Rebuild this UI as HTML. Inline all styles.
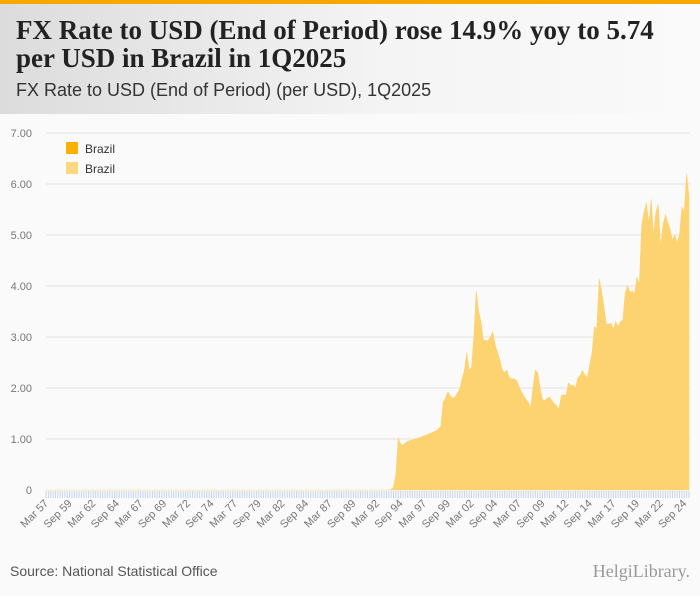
<!DOCTYPE html>
<html><head><meta charset="utf-8"><style>
body{margin:0;width:700px;height:596px;background:#fafafa;font-family:"Liberation Sans",sans-serif;overflow:hidden;position:relative}
#hdr{position:absolute;left:0;top:0;width:700px;height:114px;background:linear-gradient(90deg,#dcdcdc 0%,#f4f4f4 55%,#fafafa 100%)}
#bar{position:absolute;left:0;top:0;width:700px;height:4px;background:#f5a800}
#title{position:absolute;left:16px;top:16px;font-family:"Liberation Serif",serif;font-weight:bold;font-size:27px;line-height:28px;color:#222;width:665px}
#sub{position:absolute;left:16px;top:80px;font-size:18px;color:#333}
#src{position:absolute;left:10px;top:563px;font-size:14px;color:#555}
#logo{position:absolute;right:10px;top:561px;font-family:"Liberation Serif",serif;font-size:18px;color:#999}
svg{position:absolute;left:0;top:0}
</style></head><body>
<div id="hdr"></div>
<div id="bar"></div>
<div id="title">FX Rate to USD (End of Period) rose 14.9% yoy to 5.74 per USD in Brazil in 1Q2025</div>
<div id="sub">FX Rate to USD (End of Period) (per USD), 1Q2025</div>
<svg id="chart" width="700" height="596"></svg>
<div id="src">Source: National Statistical Office</div>
<div id="logo">HelgiLibrary.</div>
<script>
const startYear = 1957;
const yTicks = [0,1,2,3,4,5,6,7];
const yTickLabels = ["0","1.00","2.00","3.00","4.00","5.00","6.00","7.00"];
const preValues = new Array(144).fill(0);
const recentValues = [
0.00,0.00,0.01,0.05, 0.30,1.02,0.90,0.88, 0.92,0.95,0.97,0.98, 1.00,1.01,1.03,1.04,
1.06,1.08,1.10,1.12, 1.14,1.16,1.20,1.24, 1.72,1.80,1.92,1.85, 1.80,1.82,1.90,1.98,
2.18,2.35,2.69,2.35, 2.40,3.00,3.90,3.50, 3.30,2.94,2.93,2.93, 3.00,3.10,2.85,2.70,
2.55,2.35,2.30,2.35, 2.20,2.18,2.18,2.15, 2.05,1.93,1.85,1.78, 1.72,1.62,2.00,2.35,
2.30,2.00,1.78,1.75, 1.80,1.82,1.75,1.70, 1.65,1.58,1.85,1.87, 1.85,2.10,2.05,2.05,
2.00,2.20,2.25,2.34, 2.25,2.20,2.45,2.70, 3.20,3.15,4.14,3.90, 3.60,3.25,3.25,3.27,
3.15,3.30,3.20,3.30, 3.33,3.86,4.00,3.88, 3.90,3.85,4.17,4.03, 5.20,5.45,5.63,5.20,
5.70,5.00,5.45,5.60, 4.76,5.20,5.40,5.25, 5.10,4.90,5.00,4.85, 5.00,5.55,5.45,6.20,
5.74];
const values = preValues.concat(recentValues);
const mon = ["Mar","Jun","Sep","Dec"];
const categories = values.map((v,i)=>mon[i%4]+" "+String((startYear+Math.floor(i/4))%100).padStart(2,"0"));

const svg = document.getElementById('chart');
const NS = "http://www.w3.org/2000/svg";
const X0=46, X1=689, Y0=490, Y7=133;
const n = values.length;
const xs = i => X0 + i*(X1-X0)/(n-1);
const ys = v => Y0 - v*(Y0-Y7)/7;
function mk(t,a){const e=document.createElementNS(NS,t);for(const k in a)e.setAttribute(k,a[k]);svg.appendChild(e);return e;}

yTicks.forEach((t,k)=>{
  if(t>0){const g=mk('line',{x1:X0,x2:690,y1:ys(t),y2:ys(t),stroke:'#e2e2e2','stroke-width':1});
  
  }
  const l=mk('text',{x:32,y:ys(t)+4,'text-anchor':'end','font-size':11,fill:'#777','font-family':'Liberation Sans, sans-serif'});
  l.textContent=yTickLabels[k];
  
  
});

let d = "M"+xs(0)+","+Y0;
values.forEach((v,i)=>{d+=" L"+xs(i).toFixed(2)+","+ys(v).toFixed(2);});
d += " L"+xs(n-1)+","+Y0+" Z";
const area = mk('path',{d:d,fill:'#fdd270',stroke:'#fdd270','stroke-width':0.6});



for(let i=0;i<n;i++){
  const t=mk('line',{x1:xs(i),x2:xs(i),y1:Y0+1,y2:Y0+8,stroke:'#c5d3ec','stroke-width':1});
  
  
}
for(let i=0;i<n;i+=10){
  const x=xs(i)+3, y=Y0+14;
  const l=mk('text',{x:x,y:y,'text-anchor':'end','font-size':11,fill:'#777','font-family':'Liberation Sans, sans-serif',transform:'rotate(-45 '+x+' '+y+')'});
  l.textContent=categories[i];
  
  
}

[['#f9b000',149],['#fdd882',169]].forEach((c,k)=>{
  const r=mk('rect',{x:66,y:c[1]-7,width:12,height:12,fill:c[0]});
  
  
  const t=mk('text',{x:85,y:c[1]+4,'font-size':12,fill:'#333','font-family':'Liberation Sans, sans-serif'});
  t.textContent='Brazil';
  
  
});
</script>
</body></html>
